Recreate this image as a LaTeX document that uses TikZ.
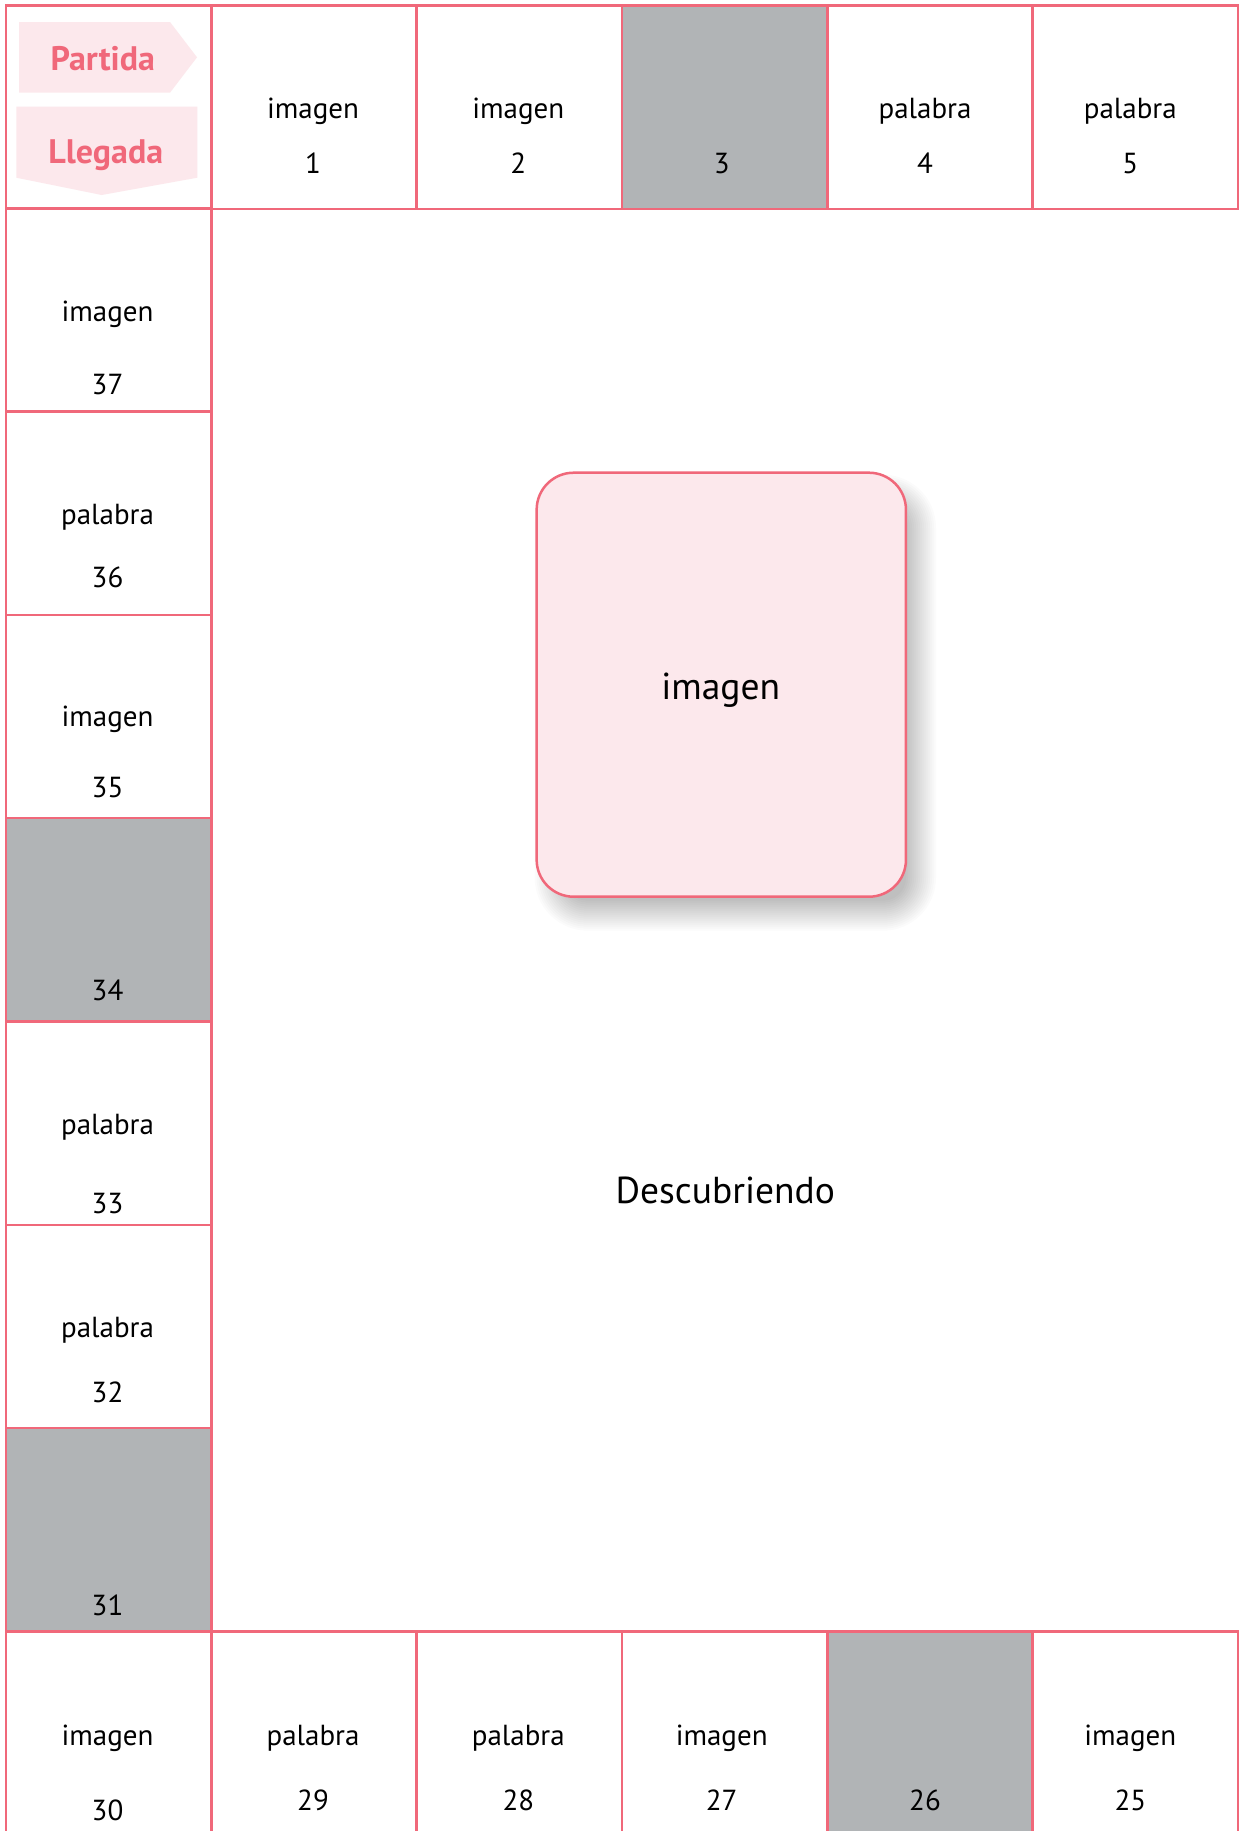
\documentclass[tikz,border=0pt]{standalone}
\usepackage{fontspec}
\setmainfont{PT Sans}
\definecolor{linepink}{RGB}{240,104,122}
\definecolor{fillpink}{RGB}{252,232,236}
\definecolor{cellgray}{RGB}{177,180,182}
\tikzset{
  cellbox/.style={draw=linepink, line width=2.5pt, fill=white, inner sep=0pt, outer sep=0pt,
     minimum width=205.33pt, minimum height=203.3pt, anchor=north west},
  graycell/.style={cellbox, fill=cellgray},
  word/.style={anchor=base, inner sep=0pt, font=\fontsize{29}{33}\selectfont, text=black},
  bigword/.style={anchor=base, inner sep=0pt, font=\fontsize{37.5}{42}\selectfont, text=black},
  tag/.style={anchor=base, inner sep=0pt, font=\fontsize{34}{38}\selectfont\bfseries, text=linepink},
}
\begin{document}
\begin{tikzpicture}[x=1pt, y=-1pt]
\useasboundingbox (0,0) rectangle (1239,1831);
\fill[white] (0,0) rectangle (1239,1831);
% top row
\node[cellbox] (c0) at (6,5.5) {};
\node[cellbox] (c1) at (211.33,5.5) {};
\node[cellbox] (c2) at (416.67,5.5) {};
\node[graycell] (c3) at (622,5.5) {};
\node[cellbox] (c4) at (827.33,5.5) {};
\node[cellbox] (c5) at (1032.67,5.5) {};
% left column
\node[cellbox] (c37) at (6,208.3) {};
\node[cellbox] (c36) at (6,411.6) {};
\node[cellbox] (c35) at (6,614.9) {};
\node[graycell] (c34) at (6,818.2) {};
\node[cellbox] (c33) at (6,1021.5) {};
\node[cellbox] (c32) at (6,1224.8) {};
\node[graycell] (c31) at (6,1428.1) {};
% bottom row
\node[cellbox] (c30) at (6,1631.4) {};
\node[cellbox] (c29) at (211.33,1631.4) {};
\node[cellbox] (c28) at (416.67,1631.4) {};
\node[cellbox] (c27) at (622,1631.4) {};
\node[graycell] (c26) at (827.33,1631.4) {};
\node[cellbox] (c25) at (1032.67,1631.4) {};

% start / finish tags
\fill[fillpink] (19,22) -- (170,22) -- (197,57.3) -- (170,92.7) -- (19,92.7) -- cycle;
\fill[fillpink] (16.3,106.7) -- (197.3,106.7) -- (197.3,177.7) -- (101.7,195) -- (16.3,177.7) -- cycle;
\node[tag] (partida) at (102.8,70) {Partida};
\node[tag] (llegada) at (105.8,163.3) {Llegada};

% top row texts
\node[word] (w1) at (313,118.3) {imagen};
\node[word] (n1) at (313,173.3) {1};
\node[word] (w2) at (518.3,118.3) {imagen};
\node[word] (n2) at (518.3,173.3) {2};
\node[word] (n3) at (721.7,173.3) {3};
\node[word] (w4) at (925,118.3) {palabra};
\node[word] (n4) at (925,173.3) {4};
\node[word] (w5) at (1130.3,118.3) {palabra};
\node[word] (n5) at (1130.3,173.3) {5};

% left column texts
\node[word] (w37) at (107.5,321.5) {imagen};
\node[word] (n37) at (107.5,394) {37};
\node[word] (w36) at (107.5,524.5) {palabra};
\node[word] (n36) at (107.5,587) {36};
\node[word] (w35) at (107.5,726.7) {imagen};
\node[word] (n35) at (107.5,797.5) {35};
\node[word] (n34) at (107.5,1000) {34};
\node[word] (w33) at (107.5,1134) {palabra};
\node[word] (n33) at (107.5,1213) {33};
\node[word] (w32) at (107.5,1337.5) {palabra};
\node[word] (n32) at (107.5,1402.7) {32};
\node[word] (n31) at (107.5,1615) {31};

% bottom row texts
\node[word] (w30) at (107.5,1745) {imagen};
\node[word] (n30) at (107.5,1820) {30};
\node[word] (w29) at (313,1745) {palabra};
\node[word] (n29) at (313,1810.7) {29};
\node[word] (w28) at (518.3,1745) {palabra};
\node[word] (n28) at (518.3,1810.7) {28};
\node[word] (w27) at (721.7,1745) {imagen};
\node[word] (n27) at (721.7,1810.7) {27};
\node[word] (n26) at (925,1810.7) {26};
\node[word] (w25) at (1130.3,1745) {imagen};
\node[word] (n25) at (1130.3,1810.7) {25};

% soft shadow of the central card
\foreach \k in {0,...,15} {
  \pgfmathsetmacro{\d}{16-2*\k}
  \pgfmathsetmacro{\r}{max(37+\d,2)}
  \fill[black, opacity=0.014, rounded corners=\r pt]
    (550.7-\d, 490.7-\d) rectangle (920+\d, 914.7+\d);
}
% central card
\node[draw=linepink, line width=2.5pt, fill=fillpink, rounded corners=37pt,
      minimum width=369.3pt, minimum height=424pt, inner sep=0pt] (card) at (721.3,684.7) {};
\node[bigword] (cardtext) at (720.7,699.3) {imagen};

\node[bigword] (title) at (725.2,1203) {Descubriendo};
\end{tikzpicture}
\end{document}
